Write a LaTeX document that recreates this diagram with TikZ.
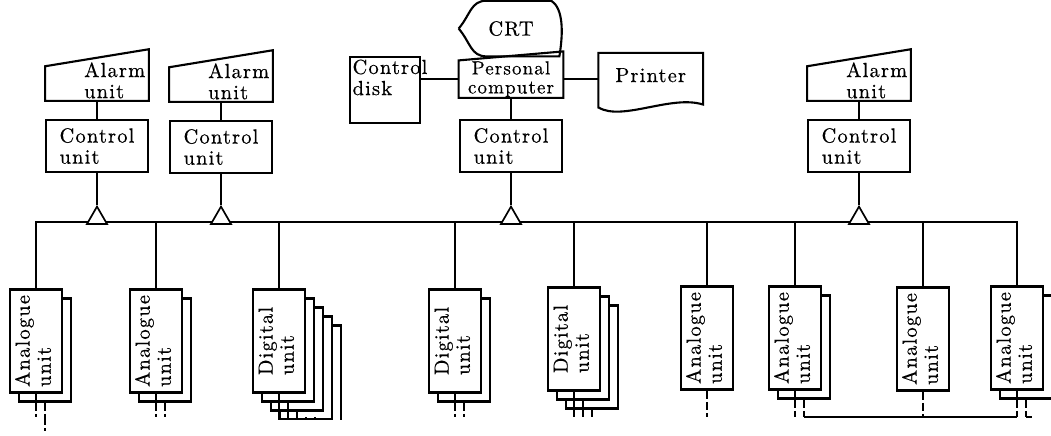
\documentclass[tikz,border=0pt]{standalone}
\usepackage{fontspec}
\setmainfont{lmroman10-regular.otf}[LetterSpace=6, FakeBold=0.5]
\usetikzlibrary{positioning, calc, shapes}
\tikzset{box/.style={draw, line width=1.5pt, fill=white, align=left}}
\tikzset{ctrlbox/.style={box, minimum width=2.55cm, minimum height=1.3cm}}
\tikzset{alarmbox/.style={minimum width=2.55cm, minimum height=0.825cm, inner sep=0pt}}
\tikzset{unitbox/.style={box, minimum width=1.3cm, minimum height=2.575cm, inner sep=0pt}}
\tikzset{tapmark/.style={draw, line width=1.2pt, fill=white, regular polygon, regular polygon sides=3, minimum size=0.58cm, inner sep=0pt}}
\tikzset{stubline/.style={line width=1.2pt, dash pattern=on 6pt off 2pt}}
\newcommand{\slanttop}[2]{\draw[line width=1.5pt] (#1.south west) -- (#1.north west) -- ($(#1.north east)+(0,#2)$) -- (#1.south east) -- cycle;}
\newcommand{\vlabel}[1]{\rotatebox{90}{\begin{tabular}{@{}l@{}}#1\\unit\end{tabular}}}

\begin{document}
\begin{tikzpicture}[x=0.025cm, y=-0.025cm, line width=1.2pt, font=\fontsize{14.5}{15}\selectfont]
      \useasboundingbox (0,0) rectangle (1051,435);
      \coordinate (bus) at (0,222);
      \coordinate (tapline) at (0,218.2);
      \coordinate (bottom) at (0,417);

      \node[ctrlbox] (cu1) at (97,146) {Control\\unit};
      \node[ctrlbox] (cu2) at (221,147) {Control\\unit};
      \node[ctrlbox] (cu3) at (511,146) {Control\\unit};
      \node[ctrlbox] (cu4) at (859,146) {Control\\unit};

      \foreach \n in {1,2,4} {
        \node[alarmbox, above=0.45cm of cu\n] (al\n) [label={[anchor=east, align=left, inner sep=2pt, yshift=0.08cm]east:Alarm\\unit}] {};
        \slanttop{al\n}{0.425cm}
        \draw (al\n) -- (cu\n);
      }

      % personal computer with its peripherals
      \node[alarmbox, minimum width=2.575cm, minimum height=0.8cm, align=center, font=\fontsize{13.5}{13.5}\selectfont, above=0.525cm of cu3] (pc) {Personal\\computer};
      \slanttop{pc}{0.225cm}
      \draw (pc) -- (cu3);

      \node[minimum width=2.575cm, minimum height=1.35cm, above=0.1cm of pc] (crt) {CRT};
      \draw[line width=1.5pt] (crt.west) .. controls +(0.3cm,0.35cm) and +(-0.4cm,0) .. ($(crt.north west)+(0.7cm,0)$)
        -- ($(crt.north east)+(-0.3cm,0)$) .. controls +(0.3cm,-0.2cm) and +(0.1cm,0.6cm) .. ($(crt.south east)+(-0.1cm,0)$)
        -- ($(crt.south west)+(0.7cm,0)$) .. controls +(-0.4cm,0) and +(0.3cm,-0.35cm) .. (crt.west);

      \node[box, minimum width=1.75cm, minimum height=1.65cm] (disk) at (385,90) [label={[anchor=north west, align=left, inner sep=2pt]north west:Control\\disk}] {};
      \draw (disk.east |- pc.west) -- (pc.west);

      \node[minimum width=2.575cm, minimum height=1.075cm, inner sep=0pt, right=0.875cm of pc, yshift=0.1cm] (prn) {Printer};
      \draw[line width=1.5pt] ($(prn.south west)+(0,-0.25cm)$) -- (prn.north west) -- (prn.north east) -- ($(prn.south east)+(0,-0.175cm)$)
        .. controls +(-0.8cm,0.25cm) and +(0.6cm,-0.35cm) .. ($(prn.south west)+(0,-0.25cm)$) -- cycle;
      \draw (pc.east) -- (pc.east -| prn.west);

      % input/output units
      \begin{scope}
        \clip (0,0) rectangle (1051,419);
        \foreach \n/\x/\y/\k/\t in {1/36/341/1/Analogue, 2/156/341/1/Analogue, 3/279/341/4/Digital, 4/455/341/1/Digital, 5/574/339/2/Digital, 6/707/338/0/Analogue, 7/795/338/1/Analogue, 8/923/339/0/Analogue, 9/1017/338/1/Analogue} {
          \ifnum\k>0
            \foreach \i in {\k,...,1}
              \node[unitbox] (u\n-\i) at ($(\x,\y)+(\i*9,\i*9)$) {};
          \fi
          \node[unitbox] (u\n-0) at (\x,\y) {\vlabel{\t}};
          \foreach \i in {0,...,\k} {
            \draw (u\n-\i.south) -- (u\n-\i.south |- u\n-\k.south);
            \draw[stubline] (u\n-\i.south |- u\n-\k.south) -- (u\n-\i.south |- bottom);
          }
        }
      \end{scope}
      \draw[stubline] (u1-1.south |- bottom) -- ++(0,14);
      \draw (u7-1.south |- bottom) -- (u9-0.south |- bottom);
      \draw (u9-1.south |- bottom) -- ++(6,0);

      \draw (u1-0.north) -- (u1-0.north |- bus) -- (u9-0.north |- bus) -- (u9-0.north);
      \foreach \n in {2,...,8}
        \draw (u\n-0.north) -- (u\n-0.north |- bus);

      \foreach \n in {1,...,4} {
        \node[tapmark] (tap\n) at (cu\n.south |- tapline) {};
        \draw (cu\n) -- (tap\n);
      }
    \end{tikzpicture}
\end{document}
